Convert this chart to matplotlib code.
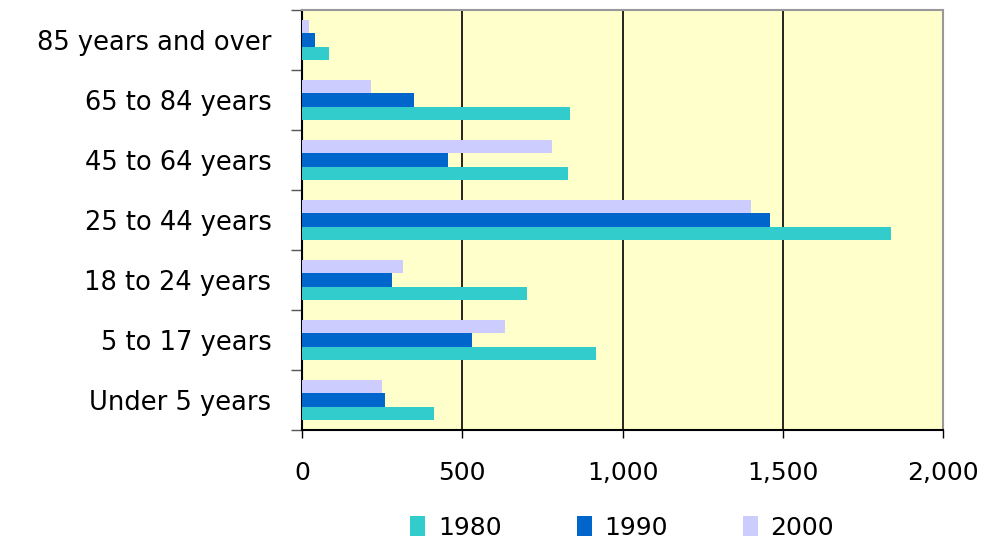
import matplotlib
matplotlib.use('Agg')
import matplotlib.pyplot as plt
import matplotlib.ticker as mticker
import numpy as np

plt.rcParams['font.family'] = ['DejaVu Sans']

categories = ['Under 5 years', '5 to 17 years', '18 to 24 years', '25 to 44 years',
              '45 to 64 years', '65 to 84 years', '85 years and over']
v1980 = [412, 916, 703, 1839, 830, 837, 85]
v1990 = [259, 529, 280, 1461, 454, 350, 42]
v2000 = [250, 634, 316, 1402, 779, 215, 23]
series = ['1980', '1990', '2000']
colors = ['#33CCCC', '#0066CC', '#CCCCFF']

fig = plt.figure(figsize=(9.9, 5.44), dpi=100)
ax = fig.add_axes([302/990, 1-430/544, 641/990, 420/544])
ax.set_facecolor('#FFFFCC')

y = np.arange(len(categories))
h = 0.217
for i, (vals, lab, col) in enumerate(zip([v1980, v1990, v2000], series, colors)):
    ax.barh(y + (i-1)*h, vals, height=h, color=col, label=lab, zorder=3)

ax.set_xlim(0, 2000)
ax.set_ylim(-0.5, len(categories)-0.5)
ax.set_xticks([0, 500, 1000, 1500, 2000])
ax.xaxis.set_major_formatter(mticker.FuncFormatter(lambda v, p: f'{int(v):,}'))
ax.xaxis.grid(True, color='black', lw=1.2)
ax.set_axisbelow(True)

ax.set_yticks(y)
ax.set_yticklabels(categories)
ax.set_yticks(np.arange(-0.5, len(categories)), minor=True)
ax.tick_params(axis='y', which='major', length=0, pad=22, labelsize=18.5)
ax.tick_params(axis='y', which='minor', length=8, width=1, color='#555555')
ax.tick_params(axis='x', length=6, width=1, pad=16, labelsize=18)

for s in ['left', 'bottom']:
    ax.spines[s].set_color('black')
    ax.spines[s].set_linewidth(1.5)
for s in ['top', 'right']:
    ax.spines[s].set_color('#999999')
    ax.spines[s].set_linewidth(1.5)

fig.legend(loc='center', bbox_to_anchor=(622/990, 0.03), ncol=3, frameon=False,
           fontsize=18, handlelength=0.6, handleheight=0.9, handletextpad=0.5,
           columnspacing=3.0)

fig.savefig('out.png', dpi=100)
